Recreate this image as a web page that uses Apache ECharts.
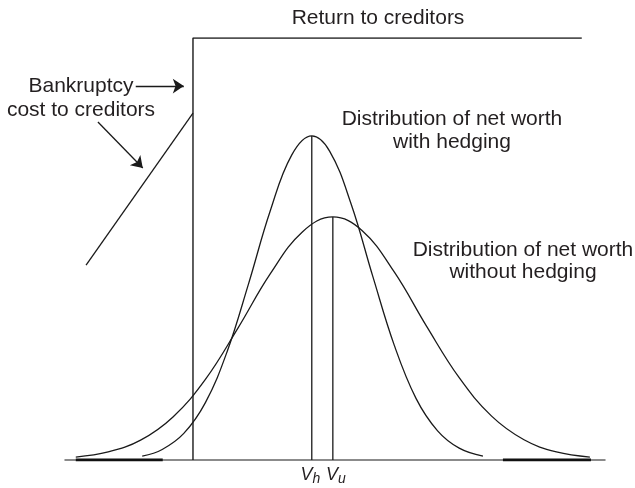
<!DOCTYPE html>
<html>
<head>
<meta charset="utf-8">
<script src="https://cdn.jsdelivr.net/npm/echarts@6/dist/echarts.min.js"></script>
<style>html,body{margin:0;padding:0;background:#fff}#c{width:635px;height:488px}</style>
</head>
<body>
<div id="c"></div>
<script>
// Net worth (x, 0-100 units) and density (y, 0-100 units)
const hedgedX = [14.3, 18, 22, 26, 30, 34, 38, 42, 45.7, 49, 53, 57, 61, 65, 69, 73, 77.4];
const hedgedY = [0.9, 2.5, 6.3, 13.6, 25.6, 41.8, 59.0, 72.3, 76.8, 73.2, 60.6, 43.5, 27.1, 14.6, 6.9, 2.8, 0.9];
const unhedgedX = [2, 8, 14, 20, 26, 32, 38, 44, 49.6, 55, 61, 67, 73, 79, 85, 91, 97.2];
const unhedgedY = [0.7, 1.9, 4.7, 10.2, 19.1, 31.2, 44.1, 54.1, 57.6, 54.4, 44.5, 31.6, 19.5, 10.4, 4.8, 1.9, 0.7];
const returnX = [23.7, 23.7, 95.7];
const returnY = [0, 100, 100];
const costX = [3.9, 23.7];
const costY = [46.2, 82.2];
const meanX = [45.7, 49.6];           // V_h, V_u
const meanTop = [76.8, 57.6];
const tickLabels = ['{v|V}{s1|h}', '{v2|V}{s|u}'];
const lossSegLeft = [2.0, 18.1];
const lossSegRight = [81.1, 97.4];
const arrowBankruptcy = [[13.1, 88.6], [22.0, 88.6]];
const arrowCost = [[6.1, 80.1], [14.4, 69.2]];

const zip = (xs, ys) => xs.map((x, i) => [x, ys[i]]);
const LINE = '#1a1a1a';
const FONT = '"Liberation Sans", Arial, Helvetica, sans-serif';
const TXT = '#231f20';

const chart = echarts.init(document.getElementById('c'), null, {renderer: 'canvas'});
const baseLine = {type: 'line', symbol: 'none', silent: true, animation: false};
const vStyle = {fontFamily: FONT, fontStyle: 'italic', fontSize: 18, color: TXT, lineHeight: 22};
const sStyle = {fontFamily: FONT, fontStyle: 'italic', fontSize: 14, color: TXT, padding: [9, 0, 0, 0], lineHeight: 22};
chart.setOption({
  animation: false,
  grid: {left: 65, right: 30, top: 38, bottom: 28},
  xAxis: {
    type: 'value', min: 0, max: 100,
    splitLine: {show: false},
    axisLine: {show: true, onZero: false, lineStyle: {color: '#666', width: 1.5}},
    axisTick: {show: false},
    axisLabel: {show: false}
  },
  yAxis: {type: 'value', min: 0, max: 100, show: false, splitLine: {show: false}},
  series: [
    Object.assign({}, baseLine, {data: zip(lossSegLeft, [0, 0]), lineStyle: {color: '#111', width: 3}}),
    Object.assign({}, baseLine, {data: zip(lossSegRight, [0, 0]), lineStyle: {color: '#111', width: 3}}),
    Object.assign({}, baseLine, {data: zip(returnX, returnY), lineStyle: {color: LINE, width: 1.4}}),
    Object.assign({}, baseLine, {data: zip(costX, costY), lineStyle: {color: LINE, width: 1.3}}),
    Object.assign({}, baseLine, {data: zip(hedgedX, hedgedY), smooth: 0.4, lineStyle: {color: LINE, width: 1.3}}),
    Object.assign({}, baseLine, {data: zip(unhedgedX, unhedgedY), smooth: 0.4, lineStyle: {color: LINE, width: 1.3}}),
    Object.assign({}, baseLine, {data: [[meanX[0], 0], [meanX[0], meanTop[0]]], lineStyle: {color: LINE, width: 1.3}}),
    Object.assign({}, baseLine, {data: [[meanX[1], 0], [meanX[1], meanTop[1]]], lineStyle: {color: LINE, width: 1.3}}),
    {
      type: 'scatter', silent: true, animation: false, symbolSize: 0,
      itemStyle: {opacity: 1, color: TXT},
      data: meanX.map((x, i) => ({value: [x, 0], label: {formatter: tickLabels[i]}})),
      label: {
        show: true, position: 'bottom', distance: 4, color: TXT, opacity: 1,
        rich: {
          v: vStyle,
          v2: Object.assign({}, vStyle, {padding: [0, 0, 0, 6]}),
          s: sStyle,
          s1: Object.assign({}, sStyle, {padding: [9, 3, 0, 0]})
        }
      },
      labelLayout: {hideOverlap: false}
    },
    {
      type: 'lines', coordinateSystem: 'cartesian2d', silent: true, animation: false,
      symbol: ['none', 'arrow'], symbolSize: [7, 11],
      lineStyle: {color: LINE, width: 1.3, opacity: 1},
      data: [{coords: arrowBankruptcy}, {coords: arrowCost}]
    }
  ],
  graphic: [
    {type: 'text', x: 378, y: 18, style: {text: 'Return to creditors', font: '21px ' + FONT, fill: TXT, align: 'center', verticalAlign: 'middle'}},
    {type: 'text', x: 452, y: 131, style: {text: 'Distribution of net worth\nwith hedging', font: '21px ' + FONT, lineHeight: 23, fill: TXT, align: 'center', verticalAlign: 'middle'}},
    {type: 'text', x: 523, y: 261, style: {text: 'Distribution of net worth\nwithout hedging', font: '21px ' + FONT, lineHeight: 22, fill: TXT, align: 'center', verticalAlign: 'middle'}},
    {type: 'text', x: 81, y: 98, style: {text: 'Bankruptcy\ncost to creditors', font: '21px ' + FONT, lineHeight: 24, fill: TXT, align: 'center', verticalAlign: 'middle'}}
  ]
});
</script>
</body>
</html>
